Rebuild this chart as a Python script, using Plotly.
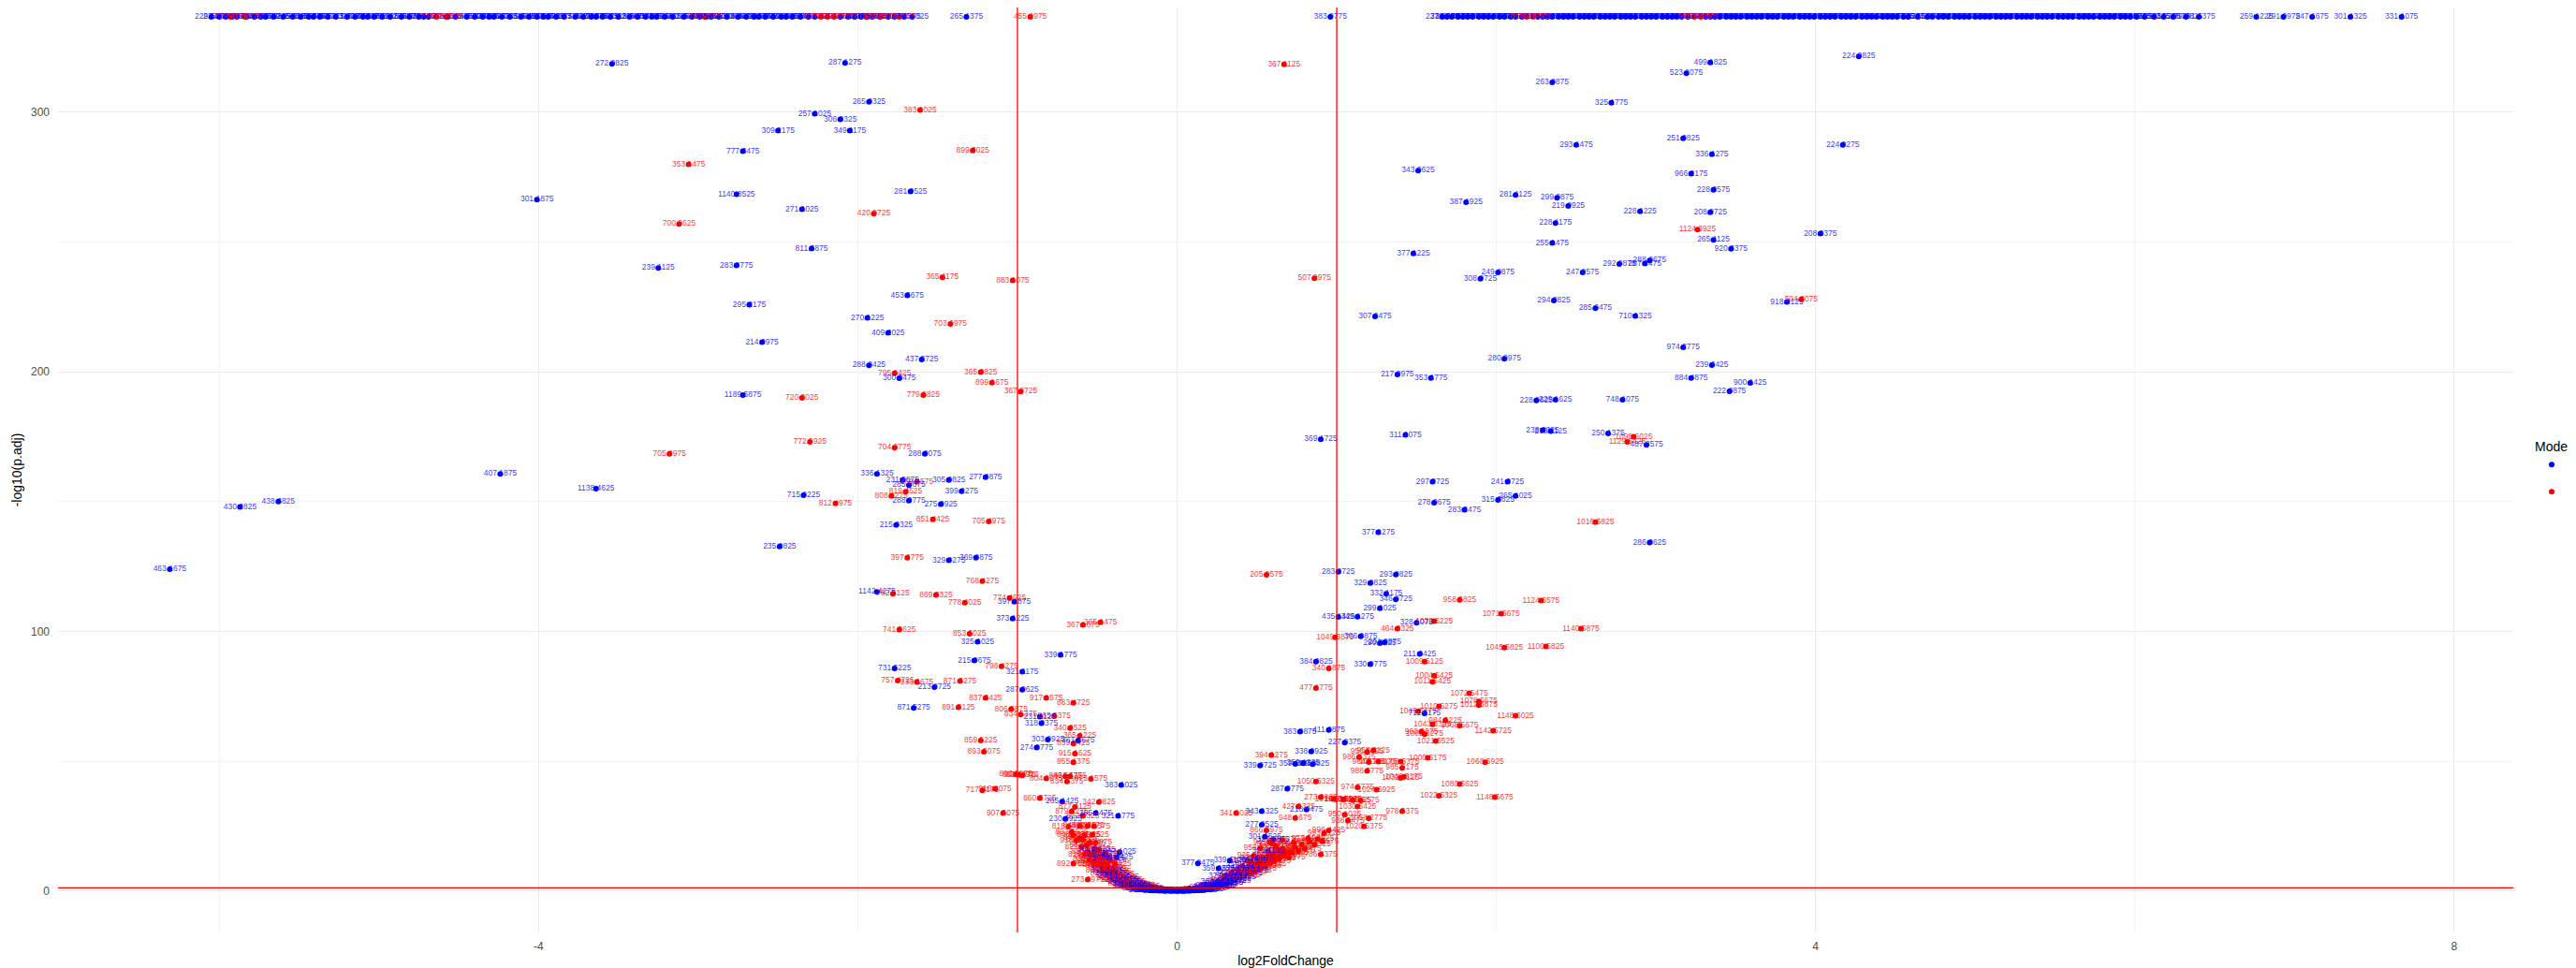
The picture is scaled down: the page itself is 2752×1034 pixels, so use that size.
import plotly.graph_objects as go

# features whose p.adj underflowed to 0 sit on the capped top row
CAP = 336.7

top_down_lfc = [
    -6.05, -5.96, -5.89, -5.78, -5.71, -5.60, -5.54, -5.44, -5.37, -5.27,
    -5.20, -5.10, -5.03, -4.93, -4.86, -4.75, -4.69, -4.52, -4.45, -4.35,
    -4.28, -4.18, -4.11, -4.01, -3.94, -3.84, -3.77, -3.67, -3.60, -3.50,
    -3.43, -3.33, -3.26, -3.16, -3.09, -2.99, -2.92, -2.82, -2.75, -2.65,
    -2.58, -2.48, -2.41, -2.31, -2.06, -1.98, -1.91, -1.81, -1.66, -1.32,
    0.96,
    1.66, 1.72, 1.79, 1.85, 1.92, 1.98, 2.05, 2.12, 2.29, 2.35,
    2.42, 2.48, 2.55, 2.61, 2.68, 2.74, 2.81, 2.87, 2.94, 3.00,
    3.07, 3.13, 3.20, 3.34, 3.40, 3.47, 3.53, 3.60, 3.66, 3.73,
    3.80, 3.86, 3.93, 3.99, 4.06, 4.12, 4.19, 4.25, 4.32, 4.38,
    4.45, 4.51, 4.58, 4.70, 4.77, 4.83, 4.90, 4.96, 5.03, 5.09,
    5.16, 5.22, 5.29, 5.35, 5.42, 5.48, 5.55, 5.61, 5.68, 5.74,
    5.81, 5.87, 5.94, 6.01, 6.12, 6.24, 6.40, 6.76, 6.93, 7.11,
    7.35, 7.67,
]
top_down_mz = [
    "229.1475", "247.0825", "263.1275", "281.0575", "231.1025", "299.0925", "245.1125", "318.1475", "257.0775", "305.1325",
    "277.1025", "339.1825", "251.0625", "295.1175", "263.0925", "287.1425", "323.0775", "241.1275", "309.1575", "271.0475",
    "285.1075", "347.1625", "233.0825", "316.1325", "259.1025", "301.1775", "275.0625", "327.1375", "249.0975", "291.1225",
    "313.1475", "267.0825", "343.1925", "255.1125", "283.0675", "335.1575", "269.1025", "297.1425", "239.0875", "321.1675",
    "279.0925", "303.1325", "261.1575", "293.0775", "289.1225", "311.1475", "273.0625", "253.1175", "307.1025", "265.1375",
    "383.0775",
    "237.1025", "261.0875", "289.1375", "245.0625", "317.1525", "271.1175", "299.0825", "233.1425", "255.1075", "283.1625",
    "311.0975", "243.1225", "267.1575", "295.0725", "325.1375", "249.1025", "277.0875", "305.1475", "259.1225", "287.0675",
    "331.1825", "247.0975", "273.1325", "301.1175", "263.0825", "319.1675", "285.1025", "239.1475", "297.0625", "341.1775",
    "253.1225", "279.0975", "315.1525", "269.1075", "293.1375", "235.0825", "307.1625", "257.1175", "333.0925", "281.1425",
    "265.1025", "309.0775", "251.1325", "327.1675", "275.0925", "303.1225", "243.0675", "291.1575", "261.1275", "319.0875",
    "285.1475", "247.1125", "337.1925", "271.0775", "295.1325", "255.0925", "313.1775", "279.1225", "241.0625", "299.1475",
    "267.1075", "323.1375", "289.0925", "263.1525", "245.1175", "305.0875", "281.1375", "259.1225", "291.0975", "247.1675",
    "301.1325", "331.1075",
]

# more of the capped row, in between the ones above
top_down_lfc2 = [
    -6.00, -5.92, -5.83, -5.74, -5.66, -5.49, -5.41, -5.32, -5.15, -5.07,
    -4.98, -4.81, -4.72, -4.57, -4.40, -4.31, -4.23, -4.06, -3.97, -3.89,
    -3.72, -3.64, -3.55, -3.38, -3.29, -3.21, -3.04, -2.95, -2.87, -2.70,
    -2.62, -2.53, -2.45, -2.36, -2.27, -2.11, -2.02, -1.94, -1.86, -1.77,
    -1.71,
    1.69, 1.76, 1.82, 1.89, 1.95, 2.02, 2.09, 2.16, 2.26, 2.32,
    2.39, 2.45, 2.52, 2.58, 2.65, 2.71, 2.78, 2.84, 2.91, 2.97,
    3.04, 3.10, 3.16, 3.31, 3.37, 3.44, 3.50, 3.57, 3.63, 3.70,
    3.76, 3.83, 3.90, 3.96, 4.03, 4.09, 4.16, 4.22, 4.29, 4.35,
    4.42, 4.48, 4.55, 4.64, 4.73, 4.80, 4.87, 4.93, 5.00, 5.06,
    5.13, 5.19, 5.26, 5.32, 5.39, 5.45, 5.52, 5.58, 5.65, 5.71,
    5.78, 5.84, 5.91, 5.97, 6.06, 6.18, 6.32,
]
top_down_mz2 = [
    "235.1125", "259.0975", "283.1425", "241.0775", "307.1225", "265.1575", "291.0825", "249.1325", "317.0975", "273.1175",
    "297.1525", "255.0725", "329.1275", "279.0925", "243.1475", "303.0825", "267.1325", "315.1075", "251.1675", "287.0975",
    "311.1325", "237.0875", "275.1525", "299.1175", "261.0725", "325.1425", "285.0875", "247.1225", "309.1375", "269.0825",
    "293.1675", "257.1275", "321.0925", "281.1025", "245.1425", "301.0775", "263.1175", "289.1525", "333.1025", "253.0875",
    "277.1375",
    "239.0925", "263.1175", "287.1525", "251.0775", "315.1225", "269.1425", "297.0875", "235.1325", "259.1075", "283.1475",
    "309.0925", "245.1275", "271.1625", "293.0825", "327.1175", "253.1425", "279.0775", "303.1525", "257.1125", "285.0925",
    "335.1375", "249.1175", "275.1025", "299.1625", "267.0875", "321.1425", "289.1075", "243.1575", "295.0975", "339.1225",
    "255.1325", "281.0825", "313.1675", "271.1275", "291.1125", "237.0975", "305.1425", "261.1075", "329.1275", "277.1525",
    "263.0925", "311.1375", "247.1025", "325.1525", "273.0775", "301.1375", "241.1125", "289.1475", "265.1225", "317.0925",
    "283.1325", "249.0775", "333.1475", "269.1225", "297.1075", "253.1375", "315.1125", "281.1575", "243.1025", "297.1625",
    "265.1475", "321.1025", "287.1125", "259.1675", "247.0925", "307.1225", "279.0825",
]

top_up_lfc = [-5.93, -5.84, -4.64, -4.58, -2.96, -2.23, -2.19, -2.15,
              -1.95, -1.86, -1.74, -0.92, 2.19, 2.23, 3.24, 3.28]
top_up_mz = ["719.4325", "801.5175", "733.4875", "857.5025", "745.4675", "827.5325", "749.5125", "863.4775",
             "781.5025", "839.5475", "813.4925", "455.2975", "893.4825", "907.5175", "925.5225", "871.4975"]

# mode "-" features
down_lfc = [
    -3.54, -2.08, -1.93, -2.27, -2.11, -2.50, -2.05, -2.72,
    -2.76, -4.01, -1.67, -2.35, -2.29, -3.25, -2.76, -1.69,
    -2.68, -1.94, -1.81, -2.60, -1.60, -1.93, -1.74, -2.72,
    -1.58, -4.24, -1.88, -3.64, -5.63, -5.87, -6.31, -1.72,
    -1.68, -1.43, -1.20, -1.35, -2.34, -1.68, -1.48, -1.76,
    -2.49, -1.43, -1.26, -1.88, -1.02, -1.03, -1.25, -0.73,
    -1.27, -0.97, -1.77, -1.52, -0.97, -1.65, -0.86, -0.85,
    -0.62, -0.81, -0.88, -0.35, -0.72, -0.51, -0.37, -0.70,
    4.27, 3.34, 3.19, 2.35, 2.72, 3.17, 2.50, 4.17,
    3.35, 1.51, 3.22, 3.36, 2.12, 2.38, 1.81, 2.45,
    2.90, 3.34, 2.37, 4.03, 2.35, 3.36, 3.47, 1.48,
    2.96, 2.93, 2.77, 2.01, 2.54, 1.90, 2.36, 2.62,
    3.82, 1.24, 2.87, 3.17, 2.05, 3.35, 1.38, 1.59,
    3.22, 3.59, 3.46, 2.25, 2.37, 2.79, 1.43, 2.29,
    2.34, 2.70, 2.94, 0.90, 1.60, 2.07, 2.12, 2.01,
    1.61, 1.80, 1.26, 2.96, 1.01, 1.37, 1.21, 1.31,
    1.37, 1.27, 1.01, 1.13, 1.50, 1.15, 1.27, 1.30,
    1.52, 1.21, 0.87, 1.55, 0.77, 0.95, 1.05, 0.84,
    0.52, 0.74, 0.79, 0.85, 0.69, 0.81, 0.53, 0.53,
    0.55, 0.13, 0.33, 0.26,
]
down_padj = [
    318.6, 318.9, 304.0, 299.4, 297.2, 292.9, 292.9, 285.0,
    268.4, 266.3, 269.5, 262.6, 247.5, 240.0, 241.0, 229.4,
    225.8, 220.8, 215.0, 211.4, 204.7, 202.5, 197.5, 191.0,
    168.4, 160.7, 160.7, 155.0, 150.0, 148.0, 124.0, 158.3,
    156.3, 158.3, 159.4, 154.0, 152.5, 150.4, 149.0, 141.0,
    132.7, 127.4, 128.4, 115.2, 111.5, 105.0, 96.0, 91.0,
    88.8, 84.5, 85.8, 78.6, 77.6, 70.5, 67.2, 64.7,
    58.0, 58.4, 55.3, 40.9, 34.5, 30.1, 29.0, 27.8,
    321.5, 319.1, 315.0, 311.5, 303.6, 289.9, 287.4, 287.4,
    283.8, 277.5, 276.3, 270.1, 268.1, 267.0, 265.3, 263.9,
    261.8, 261.4, 257.3, 253.2, 249.6, 250.8, 247.4, 245.6,
    242.9, 241.7, 241.5, 238.3, 238.3, 235.8, 227.5, 224.5,
    226.9, 221.3, 221.5, 209.4, 205.0, 202.6, 199.0, 197.6,
    197.6, 195.7, 192.5, 189.0, 189.2, 189.2, 175.7, 177.5,
    177.2, 176.3, 171.8, 174.0, 157.7, 157.7, 152.2, 150.7,
    149.6, 146.9, 138.2, 134.3, 123.0, 121.9, 118.7, 114.5,
    112.4, 108.9, 105.6, 105.7, 103.3, 98.1, 95.5, 95.8,
    91.4, 87.4, 88.4, 68.5, 61.4, 62.1, 57.2, 53.8,
    48.4, 49.0, 49.3, 48.9, 39.4, 31.4, 30.8, 25.6,
    21.0, 10.7, 11.8, 8.8,
]
down_mz = [
    "272.9825", "287.1275", "265.0325", "257.1025", "306.9325", "309.2175", "349.1175", "777.3475",
    "1140.8525", "301.1875", "281.0525", "271.1025", "811.5875", "239.1125", "283.0775", "453.5675",
    "295.2175", "270.1225", "409.2025", "214.0975", "437.3725", "288.0425", "300.0475", "1189.5875",
    "288.0075", "407.1875", "336.1325", "1138.4625", "438.3825", "430.2825", "463.1675", "231.0875",
    "285.9875", "305.9825", "277.9875", "399.2275", "715.9225", "288.0775", "275.0925", "215.0325",
    "235.9825", "329.0275", "369.9875", "1142.4275", "397.1875", "373.1225", "325.1025", "339.1775",
    "215.0675", "321.1175", "731.5225", "213.0725", "287.0625", "871.5275", "231.1125", "318.0375",
    "361.1675", "303.0925", "274.0775", "383.1025", "265.1425", "265.1475", "321.1775", "230.0925",
    "224.0825", "499.1825", "523.2075", "263.0875", "325.1775", "251.0825", "293.1475", "224.0275",
    "336.1275", "343.0625", "966.2175", "228.0575", "281.1125", "299.0875", "387.1925", "219.0925",
    "228.1225", "208.0725", "228.1175", "208.0375", "255.1475", "265.1125", "920.3375", "377.1225",
    "288.0675", "287.1475", "292.0875", "249.0875", "247.0575", "308.0725", "294.0825", "285.0475",
    "918.4125", "307.0475", "710.1325", "974.2775", "280.0975", "239.0425", "217.0975", "353.1775",
    "884.4875", "900.1425", "222.0875", "228.0625", "229.1625", "748.1075", "311.1075", "238.0325",
    "238.1125", "250.1375", "487.3575", "369.1725", "297.0725", "241.0725", "265.1025", "315.0825",
    "278.0675", "283.2475", "377.1275", "286.0625", "283.0725", "293.0825", "329.0825", "332.1175",
    "346.0725", "299.1025", "435.1425", "349.1275", "328.1075", "306.0875", "290.0825", "291.0875",
    "211.0425", "330.0775", "384.0825", "711.2175", "383.0875", "411.0875", "227.0375", "338.0925",
    "339.0725", "359.1125", "359.1325", "359.0825", "287.0775", "216.0475", "343.1325", "277.0525",
    "301.1525", "377.0475", "339.1125", "359.1675",
]

# mode "+" features
up_lfc = [
    -1.61, -1.28, -3.06, -1.90, -3.12, -1.47, -1.03, -1.42,
    -1.77, -1.23, -1.16, -0.98, -2.35, -1.59, -2.30, -1.77,
    -3.18, -1.63, -1.70, -1.79, -2.14, -1.53, -1.18, -1.69,
    -1.22, -1.78, -1.51, -1.33, -1.05, -0.59, -0.48, -1.74,
    -1.30, -1.10, -1.75, -1.63, -1.36, -1.20, -0.82, -0.65,
    -1.37, -1.04, -0.98, -0.77, -0.67, -0.61, -0.65, -1.23,
    -1.21, -0.64, -0.65, -0.99, -1.01, -0.97, -0.82, -0.70,
    -0.67, -0.69, -0.54, -1.22, -1.14, -0.86, -0.49, -0.64,
    -0.66, -0.59, -1.09, -0.68, -0.61, -0.56, -0.52, -0.65,
    -0.58, -0.53, -0.55, -0.51, -0.65, -0.52, -0.56,
    0.67, 0.86, 3.26, 3.91, 2.86, 2.82, 0.56, 0.99,
    0.95, 0.87, 0.59, 0.87, 0.90, 0.98, 1.04, 0.76,
    0.37, 0.74, 1.05, 0.56, 0.95, 0.92, 0.82, 0.73,
    0.70, 0.90, 0.60, 2.62, 1.77, 2.28, 2.03, 1.61,
    1.38, 2.53, 2.05, 2.31, 1.55, 1.61, 1.60, 1.83,
    1.89, 1.89, 1.64, 1.51, 2.12, 1.68, 1.60, 1.77,
    1.98, 1.53, 1.55, 1.62, 1.23, 1.19, 1.14, 1.57,
    1.20, 1.26, 1.40, 1.93, 1.41, 1.19, 1.42, 1.40,
    1.77, 1.13, 1.25, 1.04, 1.15, 1.10, 1.64, 1.99,
    1.13, 1.41, 1.07, 1.20, 1.17,
]
up_padj = [
    300.8, 285.2, 279.9, 260.9, 256.9, 236.4, 235.2, 218.4,
    199.4, 199.9, 195.8, 192.4, 190.0, 191.0, 173.0, 170.8,
    168.4, 157.7, 153.8, 152.2, 149.3, 143.2, 142.4, 128.4,
    119.4, 114.5, 114.1, 111.1, 112.9, 102.5, 103.5, 100.7,
    99.1, 86.6, 81.1, 80.5, 80.9, 74.4, 74.4, 72.5,
    70.8, 70.1, 68.0, 67.5, 62.8, 59.8, 56.8, 58.0,
    53.7, 53.0, 49.6, 44.8, 44.9, 44.6, 43.4, 44.2,
    44.2, 42.2, 43.2, 38.8, 39.4, 35.8, 34.3, 32.4,
    30.7, 29.0, 30.1, 24.8, 25.1, 25.1, 25.0, 21.5,
    21.6, 21.8, 18.5, 18.6, 10.6, 10.3, 4.5,
    318.4, 236.0, 254.8, 227.9, 175.0, 173.0, 121.8, 97.8,
    85.8, 78.2, 52.4, 42.2, 36.2, 35.5, 35.4, 32.6,
    30.1, 28.2, 29.4, 23.4, 23.4, 22.3, 20.3, 18.7,
    15.1, 14.1, 18.2, 142.1, 112.2, 111.9, 106.9, 104.0,
    101.1, 101.1, 93.8, 94.2, 88.4, 83.0, 80.6, 76.2,
    73.1, 71.6, 71.2, 69.3, 67.6, 65.8, 64.2, 63.7,
    61.8, 61.4, 60.4, 57.8, 54.2, 53.6, 51.6, 51.3,
    49.7, 49.9, 49.9, 49.6, 47.5, 46.3, 44.0, 43.6,
    41.2, 40.0, 39.1, 35.3, 34.9, 35.0, 36.7, 36.2,
    32.6, 30.8, 27.2, 28.1, 24.9,
]
up_mz = [
    "383.1025", "899.3025", "353.1475", "420.0725", "700.0625", "365.1175", "883.1075", "703.0975",
    "795.0425", "365.0825", "899.1675", "367.0725", "720.3025", "779.3825", "772.5925", "704.0775",
    "705.0975", "869.4575", "819.4525", "808.4275", "812.4975", "851.4425", "705.4975", "397.2775",
    "768.4275", "762.5125", "869.5325", "778.4025", "774.4625", "367.1675", "365.1475", "741.5625",
    "853.5025", "798.4275", "757.4725", "933.5675", "871.5275", "837.5425", "917.1575", "883.4725",
    "891.5125", "806.5875", "834.5375", "865.5375", "340.0525", "365.1225", "839.1425", "859.5225",
    "893.5075", "915.1625", "855.1375", "867.5175", "803.5275", "821.4975", "804.1075", "846.5475",
    "831.5375", "834.5375", "875.1575", "717.3175", "916.4075", "860.3725", "342.0825", "877.4125",
    "879.5275", "822.5325", "907.5075", "818.5425", "846.5325", "862.5175", "847.1575", "848.5025",
    "863.4125", "871.2525", "916.5075", "888.1975", "892.5625", "856.1175", "273.0975",
    "367.1125", "507.2975", "1124.3925", "504.3075", "1098.6025", "1129.6425", "205.0575", "1049.3875",
    "340.1875", "477.1775", "394.1275", "1050.5325", "273.0825", "1019.5175", "1013.5225", "427.2325",
    "341.1025", "948.1675", "950.1025", "866.5975", "996.4425", "993.5125", "972.5225", "968.5475",
    "944.4775", "786.3375", "902.5475", "1016.5825", "958.5825", "1124.5575", "1071.5675", "1032.5225",
    "464.2325", "1140.5875", "1045.5825", "1100.5825", "1009.5125", "1004.5425", "1011.5425", "1072.5475",
    "1078.5675", "1012.5675", "1010.5275", "1049.5175", "1148.6025", "984.5225", "1043.5325", "1068.5675",
    "1142.5725", "960.5075", "1062.5275", "1021.5525", "958.5125", "956.5025", "986.5325", "1000.5175",
    "984.5125", "1017.5175", "1008.5375", "1068.5925", "985.5175", "988.5775", "1046.5175", "1032.5125",
    "1080.5625", "974.5775", "1024.5925", "1040.5275", "1016.5575", "1004.5425", "1022.5325", "1148.5675",
    "1030.5425", "978.5375", "938.5475", "1058.2775", "1020.5375",
]

# the dense bowl of non-significant features around zero
core_down_lfc = [
    -0.52, -0.47, -0.43, -0.38, -0.36, -0.24, -0.20, -0.17, -0.15, -0.13,
    -0.11, -0.09, -0.07, -0.05, -0.03, -0.01, 0.01, 0.03, 0.05, 0.07,
    0.09, 0.11, 0.13, 0.15, 0.17, 0.19, 0.21, 0.23, 0.26, 0.30,
    0.34, 0.38, 0.41, 0.46, 0.50, 0.57, 0.60, 0.28, 0.22,
    -0.44, -0.41, -0.39, -0.35, -0.33, -0.31, -0.29, -0.27, -0.26, -0.22,
    -0.19, -0.16, -0.12, -0.08, -0.04, 0.00, 0.04, 0.08, 0.12, 0.16,
    0.20, 0.24, 0.27, 0.31, 0.33, 0.36, 0.39, 0.43, 0.47, 0.25,
]
core_down_padj = [
    16.3, 14.2, 12.6, 13.1, 15.0, 1.0, 0.5, 0.35, 0.25, 0.2,
    0.1, 0.15, 0.05, 0.1, 0.02, 0.05, 0.03, 0.08, 0.05, 0.15,
    0.2, 0.25, 0.35, 0.5, 0.6, 0.8, 1.1, 1.5, 2.0, 5.8,
    6.9, 8.5, 9.6, 11.4, 12.7, 15.4, 19.7, 2.8, 2.0,
    7.8, 6.9, 5.6, 4.3, 3.6, 2.9, 2.4, 1.8, 2.1, 1.0,
    0.7, 0.45, 0.3, 0.12, 0.06, 0.02, 0.04, 0.1, 0.3, 0.55,
    1.3, 1.8, 2.3, 3.3, 4.0, 4.6, 5.4, 6.7, 8.1, 3.5,
]
core_down_mz = [
    "305.0625", "289.1175", "273.0925", "261.1425", "297.1025", "319.1325", "283.0775", "245.1225", "267.0925", "301.1575",
    "255.0825", "329.1125", "271.1375", "243.0675", "287.1225", "313.0975", "259.1425", "275.1075", "249.0875", "293.1325",
    "307.0725", "265.1475", "281.0975", "317.1225", "239.0825", "299.1375", "285.0625", "253.1175", "323.1025", "377.0925",
    "341.1275", "359.0775", "315.1525", "277.1325", "335.0975", "303.1125", "327.0875", "269.1425", "291.0775",
    "311.1025", "295.0875", "279.1325", "263.0775", "247.1475", "331.1175", "257.0925", "285.1425", "321.0675", "269.1075",
    "241.1225", "309.0825", "293.1575", "251.0975", "277.1125", "339.0825", "263.1375", "299.0725", "283.1525", "245.0975",
    "317.1075", "271.1625", "289.0825", "305.1275", "255.1425", "343.0925", "267.1225", "325.0775", "279.1475", "301.0975",
]

core_up_lfc = [
    -0.61, -0.59, -0.60, -0.57, -0.56, -0.58, -0.54, -0.55, -0.52, -0.51,
    -0.53, -0.50, -0.49, -0.48, -0.47, -0.46, -0.45, -0.47, -0.44, -0.43,
    -0.42, -0.44, -0.41, -0.40, -0.39, -0.38, -0.40, -0.37, -0.36, -0.35,
    -0.37, -0.34, -0.33, -0.32, -0.31, -0.33, -0.30, -0.29, -0.28, -0.30,
    -0.27, -0.26, -0.25, -0.24, -0.23, -0.22, -0.21, -0.20, -0.19, -0.18,
    -0.16, -0.14, -0.12, -0.10, -0.66, -0.63, -0.49, -0.45, -0.42, -0.39,
    0.06, 0.10, 0.14, 0.18, 0.21, 0.24, 0.25, 0.27, 0.29, 0.31,
    0.32, 0.35, 0.36, 0.37, 0.38, 0.40, 0.41, 0.42, 0.43, 0.44,
    0.45, 0.46, 0.47, 0.48, 0.49, 0.50, 0.51, 0.52, 0.53, 0.54,
    0.55, 0.56, 0.57, 0.58, 0.59, 0.60, 0.61, 0.62, 0.63, 0.64,
    0.65, 0.66, 0.67, 0.68, 0.70, 0.72, 0.74, 0.76, 0.78, 0.80,
    0.83, 0.86, 0.88, 0.91, 0.52, 0.58, 0.62, 0.66, 0.48, 0.44,
]
core_up_padj = [
    20.4, 19.8, 16.9, 17.6, 15.2, 14.1, 13.8, 12.2, 14.6, 12.9,
    11.4, 11.7, 10.2, 12.3, 9.6, 10.8, 8.9, 8.1, 9.9, 8.2,
    7.4, 6.9, 8.8, 6.6, 7.7, 5.8, 5.2, 6.4, 5.1, 4.6,
    4.2, 5.5, 3.9, 4.4, 3.3, 2.9, 3.7, 2.8, 2.3, 2.1,
    2.6, 1.9, 1.6, 2.2, 1.4, 1.1, 1.7, 0.9, 1.2, 0.7,
    0.5, 0.4, 0.5, 0.3, 22.8, 19.5, 15.8, 14.5, 11.8, 10.4,
    0.2, 0.5, 0.9, 1.3, 1.8, 2.3, 1.7, 2.9, 3.6, 3.1,
    4.2, 4.9, 4.1, 5.7, 6.5, 5.6, 7.2, 6.1, 8.0, 6.8,
    9.1, 7.5, 8.6, 10.3, 7.9, 9.4, 11.2, 8.8, 10.1, 12.4,
    9.7, 11.0, 13.3, 10.6, 12.1, 14.2, 11.5, 13.0, 15.6, 12.5,
    14.0, 16.4, 13.6, 15.1, 12.9, 14.8, 16.9, 15.5, 17.8, 16.3,
    19.0, 17.9, 20.1, 19.2, 16.5, 18.8, 17.2, 19.7, 13.6, 11.9,
]
core_up_mz = [
    "845.5275", "861.5125", "829.5375", "877.4925", "853.5225", "817.5475", "869.5075", "835.5325", "881.4875", "823.5575",
    "857.5175", "841.5425", "873.5025", "813.5625", "849.5275", "885.4975", "827.5125", "865.5375", "839.5225", "819.5475",
    "879.5075", "833.5325", "855.4925", "811.5575", "871.5175", "847.5425", "825.5025", "889.5275", "859.4975", "837.5125",
    "815.5375", "875.5225", "843.5475", "863.5075", "831.5325", "851.4925", "891.5575", "821.5175", "867.5425", "835.5025",
    "883.5275", "809.5625", "853.4975", "873.5125", "827.5375", "845.5225", "861.5475", "819.5075", "877.5325", "841.4925",
    "857.5575", "833.5175", "887.5425", "823.5025", "892.5625", "916.5075", "849.4975", "870.5225", "838.5475", "862.5325",
    "851.5025", "915.5575", "933.5175", "947.5425", "921.5025", "955.5275", "939.4975", "963.5125", "927.5375", "951.5225",
    "945.5475", "969.5075", "917.5325", "959.4925", "937.5575", "975.5175", "929.5425", "953.5025", "941.5275", "967.4975",
    "923.5125", "957.5375", "935.5225", "979.5475", "913.5075", "949.5325", "971.4925", "931.5575", "961.5175", "943.5425",
    "985.5025", "919.5275", "965.4975", "939.5125", "977.5375", "925.5225", "955.5475", "989.5075", "933.5325", "969.4925",
    "947.5575", "981.5175", "921.5425", "959.5025", "993.5275", "937.4975", "973.5125", "951.5375", "987.5225", "929.5475",
    "966.5075", "998.5325", "944.4925", "972.5575", "958.5175", "943.5425", "961.5025", "982.5275", "935.4975", "949.5125",
]

lfc_cut = 1
padj_cut = 1.3  # -log10(0.05)

blue = "#0000FF"
red = "#FF0000"
blue_txt = "rgba(0,0,255,0.8)"
red_txt = "rgba(255,0,0,0.8)"
label_size = 8.5

top_all = top_down_lfc + top_down_lfc2
neg_x = top_all + down_lfc + core_down_lfc
neg_y = [CAP] * len(top_all) + down_padj + core_down_padj
neg_lab = top_down_mz + top_down_mz2 + down_mz + core_down_mz

pos_x = up_lfc + core_up_lfc
pos_y = up_padj + core_up_padj
pos_lab = up_mz + core_up_mz

top_pos_y = [CAP] * len(top_up_lfc)

fig = go.Figure()

# points first, then labels on top; red goes under blue so the bowl bottom shows blue
fig.add_trace(go.Scatter(x=pos_x, y=pos_y, mode="markers", name="+", legendgroup="+",
                         marker=dict(color=red, size=6), legendrank=2))
fig.add_trace(go.Scatter(x=neg_x, y=neg_y, mode="markers", name="-", legendgroup="-",
                         marker=dict(color=blue, size=6), legendrank=1))
fig.add_trace(go.Scatter(x=top_up_lfc, y=top_pos_y, mode="markers", name="+", legendgroup="+",
                         showlegend=False, marker=dict(color=red, size=6)))
fig.add_trace(go.Scatter(x=pos_x, y=pos_y, mode="text", text=pos_lab, showlegend=False,
                         textposition="middle center", hoverinfo="skip",
                         textfont=dict(size=label_size, color=red_txt)))
fig.add_trace(go.Scatter(x=neg_x, y=neg_y, mode="text", text=neg_lab, showlegend=False,
                         textposition="middle center", hoverinfo="skip",
                         textfont=dict(size=label_size, color=blue_txt)))
fig.add_trace(go.Scatter(x=top_up_lfc, y=top_pos_y, mode="text", text=top_up_mz, showlegend=False,
                         textposition="middle center", hoverinfo="skip",
                         textfont=dict(size=label_size, color=red_txt)))

line = dict(color=red, width=1.3)
fig.add_vline(x=-lfc_cut, line=line, layer="above")
fig.add_vline(x=lfc_cut, line=line, layer="above")
fig.add_hline(y=padj_cut, line=line, layer="above")

grid = "#EBEBEB"
fig.update_xaxes(
    range=[-7.01, 8.37], tickvals=[-4, 0, 4, 8], ticktext=["-4", "0", "4", "8"],
    showgrid=True, gridcolor=grid, gridwidth=1.1, zeroline=False, showline=False,
    minor=dict(dtick=2, tick0=0, showgrid=True, gridcolor="#F3F3F3", gridwidth=0.6),
    tickfont=dict(size=12, color="#4D4D4D"), ticklabelstandoff=6,
    title=dict(text="log2FoldChange", font=dict(size=14, color="black"), standoff=4),
)
fig.update_yaxes(
    range=[-15.9, 340.3], tickvals=[0, 100, 200, 300],
    showgrid=True, gridcolor=grid, gridwidth=1.1, zeroline=False, showline=False,
    minor=dict(dtick=50, tick0=0, showgrid=True, gridcolor="#F3F3F3", gridwidth=0.6),
    tickfont=dict(size=12, color="#4D4D4D"), ticklabelstandoff=8,
    title=dict(text="-log10(p.adj)", font=dict(size=14, color="black"), standoff=6),
)

fig.update_layout(
    width=2752, height=1034,
    margin=dict(l=54, r=75, t=0, b=46),
    plot_bgcolor="white", paper_bgcolor="white",
    font=dict(family="Liberation Sans, Arial, sans-serif", color="black"),
    legend=dict(title=dict(text="Mode", font=dict(size=14)), font=dict(size=12),
                x=1.008, xanchor="left", y=0.5, yanchor="middle",
                bgcolor="rgba(0,0,0,0)"),
)

fig.write_html("out.html")
